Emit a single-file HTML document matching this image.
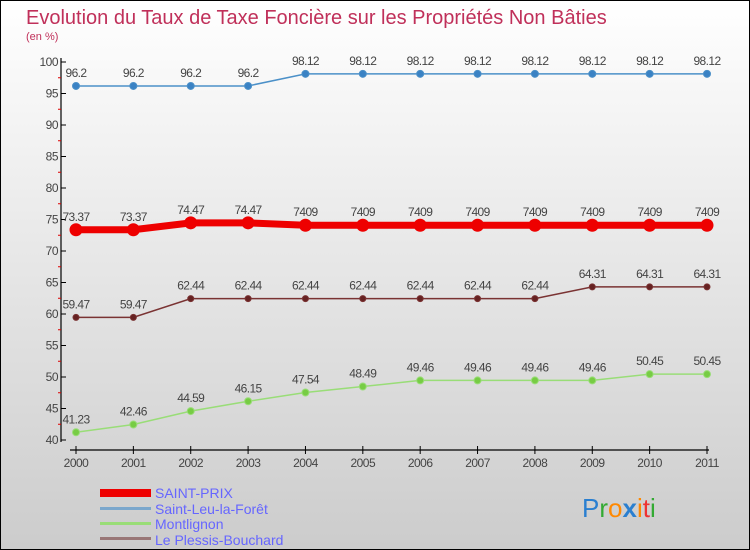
<!DOCTYPE html>
<html><head><meta charset="utf-8"><style>
body{margin:0;width:750px;height:550px;overflow:hidden}
svg{display:block;font-family:"Liberation Sans","DejaVu Sans",sans-serif}
</style></head><body>
<svg width="750" height="550" viewBox="0 0 750 550">
<defs><linearGradient id="bg" x1="0" y1="0" x2="0" y2="1"><stop offset="0" stop-color="#ffffff"/><stop offset="1" stop-color="#cccccc"/></linearGradient></defs>
<rect x="0.5" y="0.5" width="749" height="549" fill="url(#bg)" stroke="#000"/>
<text x="26" y="24" font-size="20" fill="#c0305a">Evolution du Taux de Taxe Foncière sur les Propriétés Non Bâties</text>
<text x="26" y="40" font-size="11" fill="#c0305a">(en %)</text>
<g id="axes"></g>
<g id="series"></g>
<g>
<rect x="100" y="489" width="51" height="8" fill="#e00"/>
<text x="155" y="498" font-size="14" fill="#6666ff">SAINT-PRIX</text>
<rect x="100" y="507" width="51" height="3" fill="#7ba7cc"/>
<text x="155" y="514" font-size="14" fill="#6666ff">Saint-Leu-la-Forêt</text>
<rect x="100" y="522" width="51" height="3" fill="#99dd77"/>
<text x="155" y="529" font-size="14" fill="#6666ff">Montlignon</text>
<rect x="100" y="537" width="51" height="3" fill="#997777"/>
<text x="155" y="545" font-size="14" fill="#6666ff">Le Plessis-Bouchard</text>
</g>
<text x="582" y="517" font-size="26"><tspan fill="#2a7fd0">P</tspan><tspan fill="#33aa33">r</tspan><tspan fill="#ff8800">o</tspan><tspan fill="#2a7fd0" font-weight="bold">x</tspan><tspan fill="#ff8800">i</tspan><tspan fill="#ee3333">t</tspan><tspan fill="#33aa33">i</tspan></text>
</svg>
<script>
const years=["2000","2001","2002","2003","2004","2005","2006","2007","2008","2009","2010","2011"];
const yTicks=[40,45,50,55,60,65,70,75,80,85,90,95,100];
const saintPrix=[73.37,73.37,74.47,74.47,74.09,74.09,74.09,74.09,74.09,74.09,74.09,74.09];
const saintPrixLabels=["73.37","73.37","74.47","74.47","7409","7409","7409","7409","7409","7409","7409","7409"];
const saintLeu=[96.2,96.2,96.2,96.2,98.12,98.12,98.12,98.12,98.12,98.12,98.12,98.12];
const montlignon=[41.23,42.46,44.59,46.15,47.54,48.49,49.46,49.46,49.46,49.46,50.45,50.45];
const plessis=[59.47,59.47,62.44,62.44,62.44,62.44,62.44,62.44,62.44,64.31,64.31,64.31];
const NS="http://www.w3.org/2000/svg";
const X=i=>76+i*(707-76)/(years.length-1);
const Y=v=>440-(v-40)*(378/60);
function mk(t,a,p){const e=document.createElementNS(NS,t);for(const k in a)e.setAttribute(k,a[k]);p.appendChild(e);return e;}
const ax=document.getElementById('axes');
let l=mk('line',{x1:61,y1:58,x2:61,y2:442,stroke:'#000','stroke-width':1.2},ax);


l=mk('line',{x1:70,y1:450,x2:709,y2:450,stroke:'#000','stroke-width':1.2},ax);


yTicks.forEach((v,i)=>{
 mk('line',{x1:61,y1:Y(v),x2:66,y2:Y(v),stroke:'#000'},ax);
 if(i<yTicks.length-1) mk('line',{x1:58,y1:Y(v+2.5),x2:61,y2:Y(v+2.5),stroke:'#d00'},ax);
 const t=mk('text',{x:58,y:Y(v)+4,'font-size':12,fill:'#444','text-anchor':'end','letter-spacing':'-0.5'},ax);
 t.textContent=v;
 
 
});
years.forEach((y,i)=>{
 mk('line',{x1:X(i),y1:446,x2:X(i),y2:454,stroke:'#000'},ax);
 const t=mk('text',{x:X(i),y:467,'font-size':12,fill:'#444','text-anchor':'middle','letter-spacing':'-0.5'},ax);
 t.textContent=y;
 
 
});
const sg=document.getElementById('series');
function series(vals,labels,color,dot,w,r,name){
 const g=mk('g',{},sg);
 
 
 const p=mk('polyline',{points:vals.map((v,i)=>X(i)+','+Y(v)).join(' '),fill:'none',stroke:color,'stroke-width':w},g);
 
 
 vals.forEach((v,i)=>{
  const c=mk('circle',{cx:X(i),cy:Y(v),r:r,fill:dot,stroke:color,'stroke-width':1},g);
  
  
  const t=mk('text',{x:X(i),y:Y(v)-9,'font-size':12,fill:'#444','text-anchor':'middle','letter-spacing':'-0.6'},g);
  t.textContent=labels?labels[i]:String(v);
  
  
 });
}
series(saintLeu,null,'#4b90c8','#3a82c4',1.5,3.5,'saint-leu-series');
series(plessis,null,'#7a3333','#662222',1.5,3,'plessis-series');
series(montlignon,null,'#99dd77','#77cc44',1.5,3.5,'montlignon-series');
series(saintPrix,saintPrixLabels,'#ee0000','#ee0000',7,6,'saint-prix-series');
</script>
</body></html>
